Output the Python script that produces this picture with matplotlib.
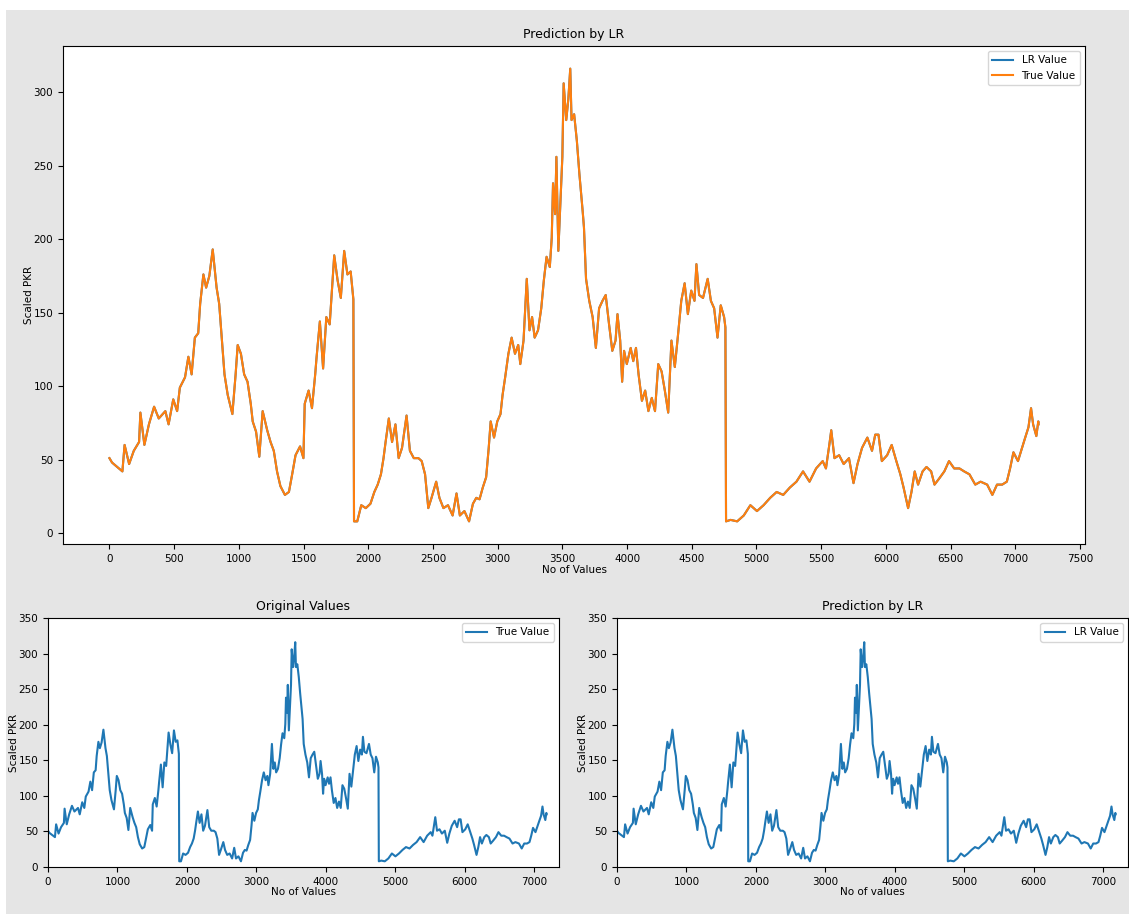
import matplotlib
matplotlib.use("Agg")
import matplotlib.pyplot as plt
from matplotlib.patches import Rectangle

# ---- data ----
x_index = [0, 20, 100, 117, 152, 188, 229, 239, 270, 305, 345, 381, 432, 457, 493, 523, 544, 584,
           610, 635, 660, 686, 701, 726, 747, 772, 798, 828, 848, 864, 889, 914, 950, 975, 991,
           1016, 1041, 1067, 1092, 1107, 1133, 1158, 1184, 1219, 1245, 1270, 1295, 1321, 1356,
           1387, 1412, 1438, 1473, 1499, 1509, 1539, 1565, 1590, 1600, 1626, 1651, 1676, 1702,
           1717, 1737, 1763, 1788, 1814, 1839, 1864, 1885, 1890,
           1915, 1946, 1981, 2017, 2047, 2073, 2098, 2118, 2134, 2159, 2184, 2210, 2235, 2261,
           2296, 2322, 2352, 2388, 2413, 2439, 2464, 2489, 2525, 2550, 2581, 2616, 2652, 2682,
           2708, 2743, 2779, 2809, 2835, 2860, 2885, 2911, 2931, 2946, 2972, 2997, 3022, 3038,
           3058, 3083, 3108, 3134, 3159, 3175, 3200, 3225, 3246, 3266, 3286, 3312, 3337, 3357,
           3378, 3403, 3418, 3428, 3444, 3454, 3469, 3489, 3500, 3510, 3530, 3546, 3561, 3571,
           3591, 3612, 3632, 3657, 3667, 3683, 3708, 3734, 3759, 3784, 3810, 3835, 3861, 3886,
           3911, 3926, 3947, 3962, 3977, 3998, 4028, 4048, 4069, 4089, 4115, 4140, 4165, 4191,
           4216, 4241, 4267, 4292, 4318, 4343, 4369, 4394, 4419, 4445, 4470, 4496, 4521, 4536,
           4557, 4587, 4623, 4648, 4673, 4699, 4724, 4750, 4760, 4765,
           4800, 4851, 4902, 4953, 5004, 5055, 5106, 5156, 5207, 5258, 5309, 5360, 5410, 5461,
           5512, 5537, 5563, 5578, 5603, 5639, 5674, 5715, 5750, 5781, 5816, 5857, 5893, 5918,
           5943, 5969, 6010, 6045, 6081, 6112, 6137, 6172, 6198, 6223, 6249, 6284, 6314, 6350,
           6376, 6411, 6452, 6488, 6528, 6569, 6605, 6646, 6691, 6732, 6783, 6823, 6859, 6899,
           6935, 6960, 6986, 7021, 7052, 7077, 7102, 7122, 7138, 7163, 7178, 7180]

true_value = [51, 48, 42, 60, 47, 56, 62, 82, 60, 74, 86, 78, 83, 74, 91, 83, 99, 106,
              120, 108, 133, 136, 156, 176, 167, 175, 193, 167, 156, 137, 108, 94, 81, 108, 128,
              122, 108, 103, 88, 76, 69, 52, 83, 70, 62, 56, 42, 32, 26,
              28, 40, 53, 59, 51, 88, 97, 85, 108, 119, 144, 112, 147, 142,
              162, 189, 172, 160, 192, 176, 178, 159, 8,
              8, 19, 17, 20, 28, 33, 40, 51, 62, 78, 62, 74, 51, 58,
              80, 56, 51, 51, 49, 40, 17, 24, 35, 24, 17, 19, 12, 27,
              12, 15, 8, 20, 24, 23, 31, 38, 58, 76, 65, 76, 81, 94,
              106, 122, 133, 122, 128, 115, 131, 173, 138, 147, 133, 138, 153, 172,
              188, 181, 201, 238, 217, 256, 192, 233, 256, 306, 281, 295, 316, 281,
              285, 267, 244, 219, 208, 173, 158, 147, 126, 153, 158, 162, 142, 124,
              131, 149, 131, 103, 124, 115, 126, 117, 126, 108, 90, 97, 83, 92,
              83, 115, 110, 97, 82, 131, 113, 135, 158, 170, 149, 165, 158, 183,
              162, 160, 173, 158, 153, 133, 155, 147, 140, 8,
              9, 8, 12, 19, 15, 19, 24, 28, 26, 31, 35, 42, 35, 44,
              49, 44, 60, 70, 51, 53, 47, 51, 34, 47, 58, 65, 56, 67,
              67, 49, 53, 60, 49, 40, 31, 17, 28, 42, 33, 42, 45, 42,
              33, 37, 42, 49, 44, 44, 42, 40, 33, 35, 33, 26, 33, 33,
              35, 44, 55, 49, 58, 65, 72, 85, 74, 66, 76, 74]

# LR predictions are indistinguishable from the true values at this scale
lr_value = list(true_value)

main_xticks = list(range(0, 7501, 500))
small_yticks = list(range(0, 351, 50))

# ---- figure ----
W, H = 1129, 914
fig = plt.figure(figsize=(W / 100, H / 100), dpi=100, facecolor="white")
fig.patches.append(Rectangle((6 / W, 0), 1 - 6 / W, 1 - 10 / H, transform=fig.transFigure,
                             facecolor="#e5e5e5", edgecolor="none", zorder=-10))

fs_tick = 7.5
fs_lab = 7.5
fs_title = 9

def px_axes(l, t, r, b):
    return fig.add_axes([l / W, 1 - b / H, (r - l) / W, (b - t) / H])

# top
ax = px_axes(63, 46, 1085, 544)
ax.plot(x_index, lr_value, color="#1f77b4", lw=1.5, label="LR Value")
ax.plot(x_index, true_value, color="#ff7f0e", lw=1.5, label="True Value")
ax.set_xticks(main_xticks)
ax.set_title("Prediction by LR", fontsize=fs_title)
ax.set_xlabel("No of Values", fontsize=fs_lab, labelpad=1)
ax.set_ylabel("Scaled PKR", fontsize=fs_lab, labelpad=0)
ax.tick_params(labelsize=fs_tick)
ax.legend(loc="upper right", fontsize=fs_tick)

# bottom left
ax1 = px_axes(48, 618, 559, 867)
ax1.plot(x_index, true_value, color="#1f77b4", lw=1.5, label="True Value")
ax1.set_xlim(0, 7360)
ax1.set_ylim(0, 350)
ax1.set_yticks(small_yticks)
ax1.set_title("Original Values", fontsize=fs_title)
ax1.set_xlabel("No of Values", fontsize=fs_lab, labelpad=0)
ax1.set_ylabel("Scaled PKR", fontsize=fs_lab, labelpad=0)
ax1.tick_params(labelsize=fs_tick)
ax1.legend(loc="upper right", fontsize=fs_tick)

# bottom right
ax2 = px_axes(617, 618, 1128, 867)
ax2.plot(x_index, lr_value, color="#1f77b4", lw=1.5, label="LR Value")
ax2.set_xlim(0, 7360)
ax2.set_ylim(0, 350)
ax2.set_yticks(small_yticks)
ax2.set_title("Prediction by LR", fontsize=fs_title)
ax2.set_xlabel("No of values", fontsize=fs_lab, labelpad=0)
ax2.set_ylabel("Scaled PKR", fontsize=fs_lab, labelpad=0)
ax2.tick_params(labelsize=fs_tick)
ax2.legend(loc="upper right", fontsize=fs_tick)

fig.savefig("out.png", dpi=100, facecolor=fig.get_facecolor())
